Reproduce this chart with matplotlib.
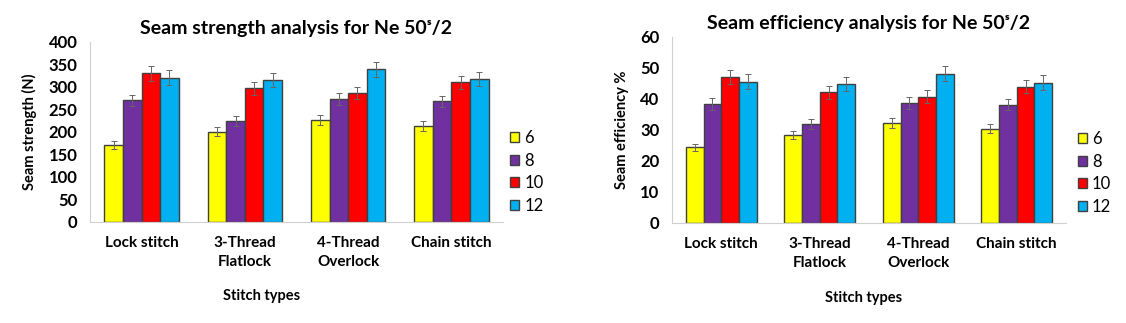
# -*- coding: utf-8 -*-
import numpy as np
import matplotlib
matplotlib.use("Agg")
import matplotlib.pyplot as plt

plt.rcParams['font.family'] = ['Lato', 'DejaVu Sans']

stitches = ['Lock stitch', '3-Thread\nFlatlock', '4-Thread\nOverlock', 'Chain stitch']
spi = ['6', '8', '10', '12']
colors = ['#FFFF00', '#7030A0', '#FF0000', '#00B0F0']

# seam strength (N), rows = spi, cols = stitch type
strength = [
    [171, 200, 227, 213],
    [270, 224, 273, 268],
    [330, 297, 287, 310],
    [321, 315, 339, 318],
]
strength_err = [
    [9, 10, 11, 11],
    [13, 11, 14, 13],
    [17, 15, 14, 15],
    [16, 16, 17, 16],
]

# seam efficiency (%)
efficiency = [
    [24.4, 28.4, 32.4, 30.4],
    [38.4, 32.0, 38.8, 38.2],
    [47.0, 42.2, 40.8, 44.0],
    [45.6, 44.8, 48.2, 45.3],
]
efficiency_err = [
    [1.2, 1.4, 1.6, 1.5],
    [1.9, 1.6, 1.9, 1.9],
    [2.3, 2.1, 2.0, 2.2],
    [2.3, 2.2, 2.4, 2.3],
]


def draw(ax, vals, errs, title, ylabel, ymax, step, legx, legy, xlabx, xlaby):
  x = np.arange(len(stitches))
  w = 0.18
  for i in range(len(spi)):
    ax.bar(x + (i - 1.5) * w, vals[i], w, color=colors[i], edgecolor='#404040',
           linewidth=1.0, label=spi[i], yerr=errs[i],
           error_kw=dict(ecolor='#666666', elinewidth=0.7, capsize=2, capthick=0.7))
  ax.set_xlim(-0.5, len(stitches) - 0.5)
  ax.set_ylim(0, ymax)
  ax.set_yticks(np.arange(0, ymax + 1, step))
  ax.set_xticks(x)
  ax.set_xticklabels(stitches, fontsize=11, fontweight='bold', linespacing=1.5)
  for lab in ax.get_yticklabels():
    lab.set_fontsize(12)
    lab.set_fontweight('bold')
  ax.tick_params(axis='y', length=0, pad=9)
  ax.tick_params(axis='x', length=0, pad=10)
  for s in ['top', 'right']:
    ax.spines[s].set_visible(False)
  for s in ['left', 'bottom']:
    ax.spines[s].set_color('#d0d0d0')
  ax.set_title(title, fontsize=14, fontweight='bold', pad=6)
  ax.set_ylabel(ylabel, fontsize=10.5, fontweight='bold', labelpad=8)
  ax.set_xlabel('Stitch types', fontsize=10.5, fontweight='bold')
  ax.xaxis.set_label_coords(xlabx, xlaby)
  ax.legend(loc='center left', bbox_to_anchor=(legx, legy), frameon=False,
            fontsize=12, handlelength=0.55, handleheight=0.55, handletextpad=0.3,
            labelspacing=0.4, borderpad=0, borderaxespad=0)


fig = plt.figure(figsize=(11.26, 3.23), dpi=100)
ax1 = fig.add_axes([0.0799, 0.3127, 0.3668, 0.5573])
ax2 = fig.add_axes([0.5968, 0.3096, 0.3499, 0.5759])

draw(ax1, strength, strength_err, 'Seam strength analysis for Ne 50ˢ/2',
     'Seam strength (N)', 400, 50, 1.017, 0.278, 0.416, -0.372)
draw(ax2, efficiency, efficiency_err, 'Seam efficiency analysis for Ne 50ˢ/2',
     'Seam efficiency %', 60, 10, 1.030, 0.269, 0.485, -0.366)

fig.savefig('out.png', dpi=100)
